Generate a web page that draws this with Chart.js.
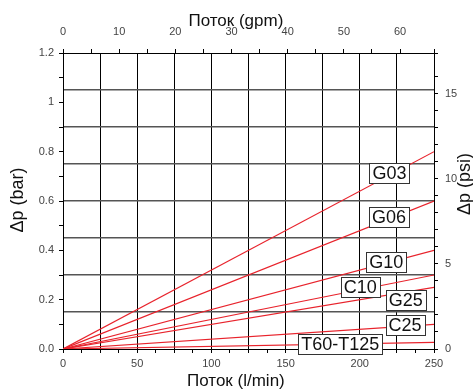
<!DOCTYPE html>
<html>
<head>
<meta charset="utf-8">
<script src="https://cdn.jsdelivr.net/npm/chart.js@4/dist/chart.umd.min.js"></script>
<style>
    html, body { margin: 0; padding: 0; background: #fff; }
    #wrap { width: 473px; height: 391px; position: relative; }
</style>
</head>
<body>
<div id="wrap"><canvas id="dpChart"></canvas></div>
<script>
// values: pressure drop at 250 l/min, lines start at 0
const seriesNames = ['G03', 'G06', 'G10', 'C10', 'G25', 'C25', 'T60-T125'];
const flowLpm = [0, 250];
const dpBar = [
    [0, 0.8],
    [0, 0.6],
    [0, 0.4],
    [0, 0.3],
    [0, 0.25],
    [0, 0.1],
    [0, 0.027]
];

// tick labels shown on each axis
const lpmTicks = [0, 50, 100, 150, 200, 250];
const gpmTicks = [0, 10, 20, 30, 40, 50, 60];
const barTicks = { 0: '0.0', 0.2: '0.2', 0.4: '0.4', 0.6: '0.6', 0.8: '0.8', 1: '1', 1.2: '1.2' };
const psiTicks = [0, 5, 10, 15];

// where the name boxes sit (l/min, bar)
const labelSpots = [
    [220, 0.713],
    [219.7, 0.535],
    [217.9, 0.354],
    [200.3, 0.251],
    [231, 0.197],
    [230.5, 0.097],
    [186.9, 0.0215]
];

const LPM_PER_GPM = 3.78541;
const PSI_PER_BAR = 14.5038;
const tickFont = { family: 'Liberation Sans', size: 11 };
const tickColor = '#444';

const near = (a, b) => Math.abs(a - b) < 1e-6;

const nameBoxes = {
    id: 'nameBoxes',
    afterDraw(chart) {
        const { ctx, scales: { x, y } } = chart;
        ctx.save();
        ctx.font = '18px "Liberation Sans"';
        ctx.textAlign = 'center';
        ctx.textBaseline = 'middle';
        seriesNames.forEach((name, i) => {
            const cx = x.getPixelForValue(labelSpots[i][0]);
            const cy = y.getPixelForValue(labelSpots[i][1]);
            const w = Math.round(ctx.measureText(name).width + 6);
            const h = 20;
            const bx = Math.round(cx - w / 2) + 0.5;
            const by = Math.round(cy - h / 2) + 0.5;
            ctx.fillStyle = '#fff';
            ctx.fillRect(bx, by, w, h);
            ctx.strokeStyle = '#333';
            ctx.lineWidth = 1;
            ctx.strokeRect(bx, by, w, h);
            ctx.fillStyle = '#111';
            ctx.fillText(name, cx, cy + 1);
        });
        ctx.restore();
    }
};

const axisTitles = {
    id: 'axisTitles',
    afterDraw(chart) {
        const { ctx, chartArea } = chart;
        const midX = chartArea.left + (chartArea.right - chartArea.left) * 0.466;
        const midY = (chartArea.top + chartArea.bottom) / 2;
        ctx.save();
        ctx.fillStyle = '#111';
        ctx.font = '17px "Liberation Sans"';
        ctx.textAlign = 'center';
        ctx.textBaseline = 'middle';
        ctx.fillText('Поток (gpm)', midX, 21);
        ctx.fillText('Поток (l/min)', midX, 381);

        ctx.font = '18px "Liberation Sans"';
        ctx.save();
        ctx.translate(18, midY - 1);
        ctx.rotate(-Math.PI / 2);
        ctx.fillText('Δp (bar)', 0, 0);
        ctx.restore();

        ctx.translate(465, midY - 17);
        ctx.rotate(-Math.PI / 2);
        ctx.fillText('Δp (psi)', 0, 0);
        ctx.restore();
    }
};

const datasets = seriesNames.map((name, i) => ({
    label: name,
    data: flowLpm.map((q, j) => ({ x: q, y: dpBar[i][j] })),
    borderColor: '#e8232c',
    borderWidth: 1.2,
    pointRadius: 0,
    showLine: true,
    fill: false
}));

new Chart(document.getElementById('dpChart'), {
    type: 'scatter',
    data: { datasets },
    options: {
        responsive: true,
        maintainAspectRatio: false,
        animation: false,
        layout: { padding: 0 },
        plugins: {
            legend: { display: false },
            tooltip: { enabled: false }
        },
        scales: {
            x: {
                type: 'linear',
                position: 'bottom',
                min: 0,
                max: 250,
                afterFit: s => { s.height = 42; },
                border: { color: '#000', width: 1 },
                grid: {
                    color: c => (c.tick && near(c.tick.value % 25, 0) ? '#000' : 'rgba(0,0,0,0)'),
                    tickColor: '#000',
                    tickLength: 4
                },
                ticks: {
                    stepSize: 12.5,
                    autoSkip: false,
                    maxRotation: 0,
                    padding: 4,
                    font: tickFont,
                    color: tickColor,
                    callback: v => (lpmTicks.some(t => near(t, v)) ? String(v) : '')
                }
            },
            x2: {
                type: 'linear',
                position: 'top',
                min: 0,
                max: 250 / LPM_PER_GPM,
                afterFit: s => { s.height = 53; },
                border: { color: '#000', width: 1 },
                grid: { drawOnChartArea: false, tickColor: '#000', tickLength: 4 },
                ticks: {
                    stepSize: 5,
                    autoSkip: false,
                    maxRotation: 0,
                    padding: 10,
                    font: tickFont,
                    color: tickColor,
                    callback: v => (gpmTicks.some(t => near(t, v)) ? String(v) : '')
                }
            },
            y: {
                type: 'linear',
                position: 'left',
                min: 0,
                max: 1.2,
                afterFit: s => { s.width = 63; },
                border: { color: '#000', width: 1 },
                grid: { drawOnChartArea: false, tickColor: '#000', tickLength: 4 },
                ticks: {
                    stepSize: 0.1,
                    autoSkip: false,
                    padding: 5,
                    font: tickFont,
                    color: tickColor,
                    callback: v => {
                        const k = Object.keys(barTicks).find(t => near(+t, v));
                        return k !== undefined ? barTicks[k] : '';
                    }
                }
            },
            yGrid: {
                type: 'linear',
                position: 'left',
                min: 0,
                max: 1.2,
                afterFit: s => { s.width = 0; },
                border: { display: false },
                grid: {
                    drawTicks: false,
                    lineWidth: 1.5,
                    color: c => (c.tick && (near(c.tick.value, 0) || near(c.tick.value, 1.2)) ? 'rgba(0,0,0,0)' : '#555')
                },
                ticks: { display: false, stepSize: 0.15, autoSkip: false }
            },
            y2: {
                type: 'linear',
                position: 'right',
                min: 0,
                max: 1.2 * PSI_PER_BAR,
                afterFit: s => { s.width = 39; },
                border: { color: '#000', width: 1 },
                grid: { drawOnChartArea: false, tickColor: '#000', tickLength: 4 },
                ticks: {
                    stepSize: 1,
                    autoSkip: false,
                    padding: 7,
                    font: tickFont,
                    color: tickColor,
                    callback: v => (psiTicks.some(t => near(t, v)) ? String(v) : '')
                }
            }
        }
    },
    plugins: [nameBoxes, axisTitles]
});
</script>
</body>
</html>
